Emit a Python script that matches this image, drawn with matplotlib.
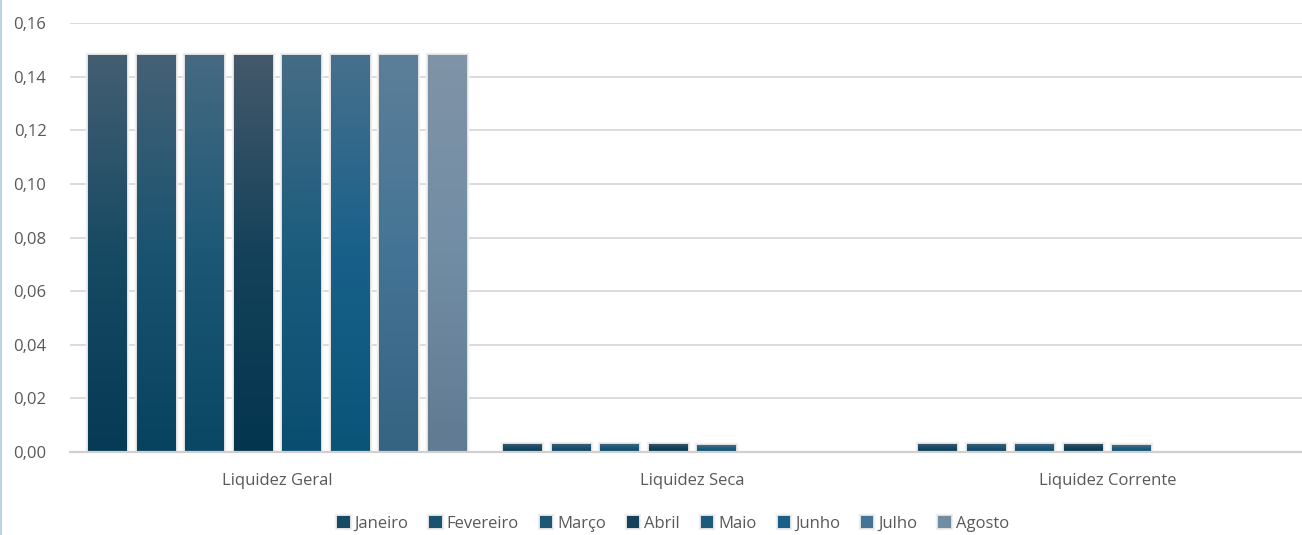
import numpy as np
import matplotlib
matplotlib.use("Agg")
import matplotlib.pyplot as plt
import matplotlib.patheffects as pe
from matplotlib.colors import to_rgb
from matplotlib.ticker import FuncFormatter

# ---- data ----
categories = ["Liquidez Geral", "Liquidez Seca", "Liquidez Corrente"]
months = ["Janeiro", "Fevereiro", "Março", "Abril", "Maio", "Junho", "Julho", "Agosto"]
values = {
    "Janeiro":   [0.1482, 0.0030, 0.0030],
    "Fevereiro": [0.1482, 0.0030, 0.0030],
    "Março":     [0.1482, 0.0030, 0.0030],
    "Abril":     [0.1482, 0.0030, 0.0030],
    "Maio":      [0.1482, 0.0025, 0.0025],
    "Junho":     [0.1479, 0.0, 0.0],
    "Julho":     [0.1479, 0.0, 0.0],
    "Agosto":    [0.1479, 0.0, 0.0],
}
yticks = [0.00, 0.02, 0.04, 0.06, 0.08, 0.10, 0.12, 0.14, 0.16]

# ---- styles (bottom, mid, top gradient colours) ----
grad_colors = {
    "Janeiro":   ("#063A55", "#174A63", "#445E72"),
    "Fevereiro": ("#07425F", "#1A5370", "#456176"),
    "Março":     ("#0A4765", "#1C5876", "#466A82"),
    "Abril":     ("#04354F", "#14425A", "#45596B"),
    "Maio":      ("#0A4E6F", "#1B5C7D", "#466C86"),
    "Junho":     ("#0A5478", "#186089", "#47708D"),
    "Julho":     ("#356382", "#447495", "#5C7F99"),
    "Agosto":    ("#607A91", "#718DA4", "#8093A7"),
}

fig = plt.figure(figsize=(13.02, 5.35), dpi=100)
ax = fig.add_axes([70 / 1302, 83 / 535, 1245 / 1302, 429 / 535])

x = np.arange(len(categories))
pitch = 0.1169
width = 0.093
n = len(months)

shadow = [pe.Stroke(linewidth=3.2, foreground="#f0f0f0"),
          pe.Stroke(linewidth=1.4, foreground="#dedede"),
          pe.Normal()]

for i, m in enumerate(months):
    bot, mid, top = grad_colors[m]
    offs = (i - (n - 1) / 2) * pitch
    bars = ax.bar(x + offs, values[m], width, color=mid, label=m,
                  zorder=2, linewidth=0)
    for b, v in zip(bars, values[m]):
        if v <= 0:
            b.set_visible(False)
            continue
        b.set_path_effects(shadow)
        bx, by = b.get_x(), b.get_y()
        bw, bh = b.get_width(), b.get_height()
        t = np.linspace(0, 1, 200)[:, None]
        cb, cm, ct = np.array(to_rgb(bot)), np.array(to_rgb(mid)), np.array(to_rgb(top))
        img = np.where(t < 0.5, cb + (cm - cb) * (t / 0.5), cm + (ct - cm) * ((t - 0.5) / 0.5))
        img = img[:, None, :]
        im = ax.imshow(img, extent=[bx, bx + bw, by, by + bh], origin="lower",
                       aspect="auto", zorder=2.5, interpolation="bilinear")
        im.set_clip_path(b)

ax.set_xlim(-0.5, 2.5)
ax.set_ylim(0, 0.16)
ax.set_yticks(yticks)
ax.yaxis.set_major_formatter(FuncFormatter(lambda v, p: f"{v:.2f}".replace(".", ",")))
ax.set_xticks(x)
ax.set_xticklabels(categories)

ax.set_axisbelow(True)
ax.grid(axis="y", color="#d9d9d9", linewidth=1.3, zorder=0)
for s in ["top", "right", "left"]:
    ax.spines[s].set_visible(False)
ax.spines["bottom"].set_color("#d0d0d0")
ax.spines["bottom"].set_linewidth(1.6)
ax.spines["bottom"].set_zorder(3)

ax.tick_params(axis="y", length=0, pad=17, labelsize=12, labelcolor="#595959")
ax.tick_params(axis="x", length=0, pad=15, labelsize=12, labelcolor="#595959")
for lbl in ax.get_yticklabels() + ax.get_xticklabels():
    lbl.set_family(["Open Sans", "DejaVu Sans"])

leg = fig.legend(loc="center", bbox_to_anchor=(673 / 1302, 1 - 524 / 535), ncol=8,
                 frameon=False, handlelength=0.75, handleheight=0.75,
                 handletextpad=0.3, columnspacing=1.25,
                 prop={"family": ["Open Sans", "DejaVu Sans"], "size": 12})
for t in leg.get_texts():
    t.set_color("#595959")

# left border line
fig.add_artist(plt.Line2D([0.0008, 0.0008], [0, 1], color="#bcd3e3", linewidth=1.5,
                          transform=fig.transFigure))

fig.savefig("out.png", dpi=100)
